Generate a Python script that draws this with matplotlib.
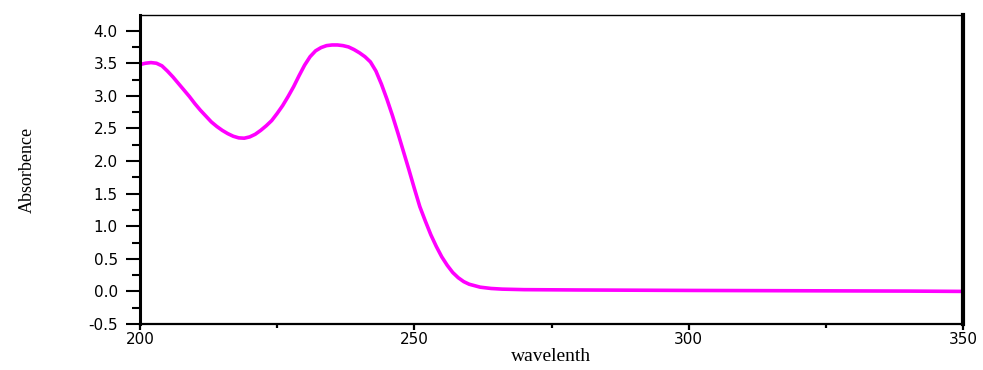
import numpy as np
import matplotlib
matplotlib.use("Agg")
import matplotlib.pyplot as plt
from matplotlib.ticker import MultipleLocator

# absorbance spectrum
wavelength = [200, 201, 202, 203, 204, 205, 206, 207, 208, 209, 210, 211, 212, 213,
              214, 215, 216, 217, 218, 219, 220, 221, 222, 223, 224, 225, 226, 227,
              228, 229, 230, 231, 232, 233, 234, 235, 236, 237, 238, 239, 240, 241,
              242, 243, 244, 245, 246, 247, 248, 249, 250, 251, 252, 253, 254, 255,
              256, 257, 258, 259, 260, 262, 264, 266, 270, 280, 300, 320, 340, 350]
absorbance = [3.48, 3.50, 3.51, 3.50, 3.46, 3.38, 3.29, 3.19, 3.09, 2.99, 2.88, 2.78,
              2.69, 2.60, 2.53, 2.47, 2.42, 2.38, 2.355, 2.35, 2.37, 2.41, 2.47, 2.54,
              2.62, 2.73, 2.85, 2.99, 3.14, 3.31, 3.47, 3.60, 3.69, 3.74, 3.77, 3.78,
              3.78, 3.77, 3.75, 3.71, 3.66, 3.60, 3.52, 3.38, 3.18, 2.95, 2.70, 2.43,
              2.15, 1.87, 1.58, 1.30, 1.08, 0.87, 0.69, 0.53, 0.40, 0.29, 0.21, 0.15,
              0.11, 0.065, 0.045, 0.035, 0.027, 0.022, 0.015, 0.01, 0.005, 0.0]

fig = plt.figure(figsize=(9.83, 3.70), dpi=100)
ax = fig.add_axes([0.1424, 0.1243, 0.8373, 0.8352])

ax.plot(wavelength, absorbance, color="#ff00ff", lw=2.6,
        solid_capstyle="round", solid_joinstyle="round")

ax.set_xlim(200, 350)
ax.set_ylim(-0.5, 4.24)
ax.xaxis.set_major_locator(MultipleLocator(50))
ax.xaxis.set_minor_locator(MultipleLocator(25))
ax.yaxis.set_minor_locator(MultipleLocator(0.25))
yticks = np.arange(-0.5, 4.01, 0.5)
ax.set_yticks(yticks)
ax.set_yticklabels([f"{v:.1f}" for v in yticks])

ax.spines["left"].set_linewidth(2.2)
ax.spines["right"].set_linewidth(3.0)
ax.spines["top"].set_linewidth(1.0)
ax.spines["bottom"].set_linewidth(1.6)

ax.tick_params(axis="y", which="major", direction="out", length=10, width=1.5, pad=6,
               labelsize=11)
ax.tick_params(axis="y", which="minor", direction="out", length=5.5, width=1.5)
ax.tick_params(axis="x", which="major", direction="out", length=4.5, width=1.6, pad=1,
               labelsize=11)
ax.tick_params(axis="x", which="minor", direction="out", length=3, width=1.6)
for lab in ax.get_xticklabels() + ax.get_yticklabels():
    lab.set_family("DejaVu Sans")

ax.set_xlabel("wavelenth", family="Liberation Serif", fontsize=14, labelpad=1)
ax.set_ylabel("Absorbence", family="Liberation Serif", fontsize=13, labelpad=38)

fig.savefig("out.png", dpi=100)
